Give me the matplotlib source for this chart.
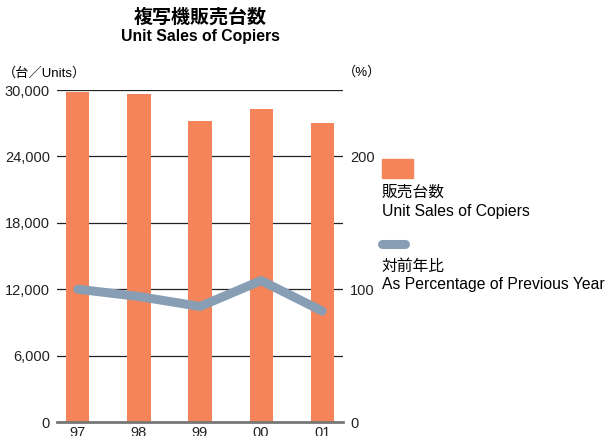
import matplotlib
matplotlib.use("Agg")
import matplotlib.pyplot as plt
from matplotlib.patches import Rectangle
from matplotlib.lines import Line2D

plt.rcParams['font.family'] = ['Liberation Sans', 'Noto Sans CJK JP', 'DejaVu Sans']

years = ["97", "98", "99", "00", "01"]
unit_sales = [29800, 29650, 27200, 28250, 27000]
pct_prev_year = [100, 94.5, 87, 106.5, 83.5]

bar_color = "#F5845A"
line_color = "#879EB4"

fig = plt.figure(figsize=(6.05, 4.36), dpi=100)
W, H = 605, 436
ax = fig.add_axes([57 / W, 1 - 422 / H, (343 - 57) / W, (422 - 90) / H])

x = range(len(years))
ax.bar(x, unit_sales, width=0.38, color=bar_color, zorder=2)
ax.set_xlim(-0.34, len(years) - 1 + 0.34)
ax.set_ylim(0, 30000)
ax.set_yticks(range(0, 30001, 6000))
ax.set_yticklabels([f"{v:,}" for v in range(0, 30001, 6000)], fontsize=10.5, color="#222222")
ax.yaxis.grid(True, color="#222222", linewidth=0.9, zorder=1)
ax.set_xticks(list(x))
ax.set_xticklabels(years, fontsize=10.5, color="#222222")
ax.tick_params(axis="y", length=0, pad=5)
ax.tick_params(axis="x", length=0, pad=3)
for s in ["top", "right", "left"]:
    ax.spines[s].set_visible(False)
ax.spines["bottom"].set_color("#777777")
ax.spines["bottom"].set_linewidth(2)
ax.spines["bottom"].set_zorder(4)

ax2 = ax.twinx()
ax2.plot(list(x), pct_prev_year, color=line_color, linewidth=6.5,
         solid_capstyle="round", solid_joinstyle="round", zorder=3)
ax2.set_ylim(0, 250)
ax2.set_yticks([0, 100, 200])
ax2.set_yticklabels(["0", "100", "200"], fontsize=10.5, color="#222222")
ax2.tick_params(axis="y", length=0, pad=5)
for s in ["top", "right", "left", "bottom"]:
    ax2.spines[s].set_visible(False)

fig.text(200 / W, 1 - 17 / H, "複写機販売台数", ha="center", va="center",
         fontsize=13.7, fontweight="bold")
fig.text(200 / W, 1 - 37 / H, "Unit Sales of Copiers", ha="center", va="center",
         fontsize=11.3, fontweight="bold")
fig.text(3 / W, 1 - 73 / H, "（台／Units）", ha="left", va="center", fontsize=9.5)
fig.text(343 / W, 1 - 72 / H, "（%）", ha="left", va="center", fontsize=9.5)

# legend
fig.patches.append(Rectangle((382 / W, 1 - 178 / H), 31 / W, 19 / H,
                             transform=fig.transFigure, color=bar_color))
fig.text(382 / W, 1 - 192 / H, "販売台数", ha="left", va="center", fontsize=11.3)
fig.text(382 / W, 1 - 211 / H, "Unit Sales of Copiers", ha="left", va="center", fontsize=11.3)
fig.lines.append(Line2D([382 / W, 405 / W], [1 - 244 / H, 1 - 244 / H],
                        transform=fig.transFigure, color=line_color, linewidth=6.5,
                        solid_capstyle="round"))
fig.text(382 / W, 1 - 266 / H, "対前年比", ha="left", va="center", fontsize=11.3)
fig.text(382 / W, 1 - 284 / H, "As Percentage of Previous Year", ha="left", va="center", fontsize=11.3)

fig.savefig("out.png", dpi=100)
